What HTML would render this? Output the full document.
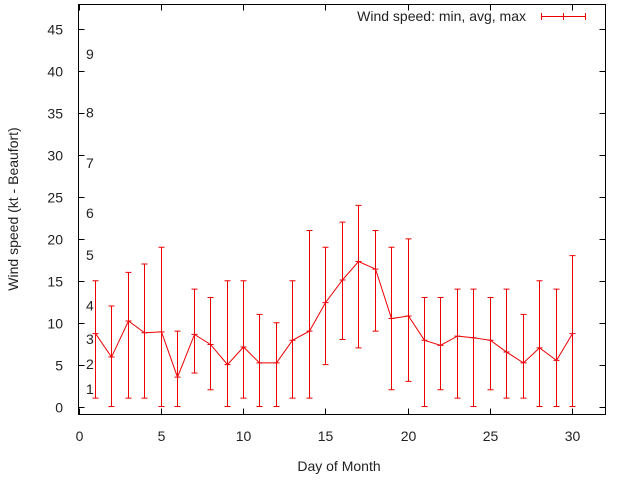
<!DOCTYPE html>
<html><head><meta charset="utf-8"><style>
body{margin:0;background:#fff;}
svg{display:block;font-family:"Liberation Sans",sans-serif;}
</style></head><body>
<svg id="chart" width="640" height="480" viewBox="0 0 640 480" xmlns="http://www.w3.org/2000/svg">
<rect x="78.5" y="4.5" width="527" height="410" fill="none" stroke="#000"/>
<g id="ticks"></g>
<g id="beaufort" font-size="14" fill="#222"></g>
<g id="series"></g>
<text x="339" y="471" font-size="14" text-anchor="middle" fill="#222">Day of Month</text>
<text transform="translate(18,209) rotate(-90)" font-size="14" text-anchor="middle" fill="#222">Wind speed (kt - Beaufort)</text>
<g>
<text x="526" y="21" font-size="14" text-anchor="end" fill="#222">Wind speed: min, avg, max</text>
<path d="M541.5 16.5H585.5M541.5 13V20M563.5 13V20M585.5 13V20" stroke="#e00" stroke-width="1" fill="none"/>
</g>
</svg>
<script>
const days=[1,2,3,4,5,6,7,8,9,10,11,12,13,14,15,16,17,18,19,20,21,22,23,24,25,26,27,28,29,30];
const minVals=[1,0,1,1,0,0,4,2,0,1,0,0,1,1,5,8,7,9,2,3,0,2,1,0,2,1,1,0,0,0];
const avgVals=[8.7,5.9,10.2,8.8,8.9,3.5,8.6,7.4,5.0,7.1,5.2,5.2,7.9,9.0,12.4,15.1,17.3,16.4,10.5,10.8,7.9,7.3,8.4,8.2,7.9,6.5,5.2,7.0,5.5,8.7];
const maxVals=[15,12,16,17,19,9,14,13,15,15,11,10,15,21,19,22,24,21,19,20,13,13,14,14,13,14,11,15,14,18];
const xTicks=[0,5,10,15,20,25,30];
const yTicks=[0,5,10,15,20,25,30,35,40,45];
const beaufortLabels=["1","2","3","4","5","6","7","8","9"];
const beaufortKt=[1,4,7,11,17,22,28,34,41];
const NS="http://www.w3.org/2000/svg";
const X=v=>78.5+v*16.45;
const Y=v=>406.5-v*8.38;
function mk(tag,attrs,parent){const e=document.createElementNS(NS,tag);for(const k in attrs)e.setAttribute(k,attrs[k]);parent.appendChild(e);return e;}
const tg=document.getElementById('ticks');
xTicks.forEach(t=>{
  const x=Math.round(X(t))+0.5;
  const p=mk('path',{d:`M${x} 414.5V408.5M${x} 4.5V10.5`,stroke:'#000',fill:'none'},tg);
  
  
  const l=mk('text',{x:x,y:441,'font-size':14,'text-anchor':'middle',fill:'#222'},tg);
  l.textContent=t;
  
  
});
yTicks.forEach(t=>{
  const y=Math.round(Y(t))+0.5;
  const p=mk('path',{d:`M78.5 ${y}H84.5M605.5 ${y}H599.5`,stroke:'#000',fill:'none'},tg);
  
  
  const l=mk('text',{x:63,y:y+5,'font-size':14,'text-anchor':'end',fill:'#222'},tg);
  l.textContent=t;
  
  
});
const bg=document.getElementById('beaufort');
beaufortKt.forEach((k,i)=>{
  const l=mk('text',{x:86,y:Y(k)-4},bg);
  l.textContent=beaufortLabels[i];
  
  
});
const sg=document.getElementById('series');
days.forEach((d,i)=>{
  const x=Math.round(X(d))+0.5;
  const yl=Y(minVals[i]),yh=Y(maxVals[i]);
  const p=mk('path',{d:`M${x} ${yl}V${yh}M${x-3} ${yl}H${x+3}M${x-3} ${yh}H${x+3}M${x-3} ${Y(avgVals[i])}H${x+3}`,stroke:'#e00',fill:'none'},sg);
  
  
});
const line=mk('polyline',{points:days.map((d,i)=>`${Math.round(X(d))+0.5},${Y(avgVals[i])}`).join(' '),stroke:'#e00',fill:'none'},sg);


</script>
</body></html>
